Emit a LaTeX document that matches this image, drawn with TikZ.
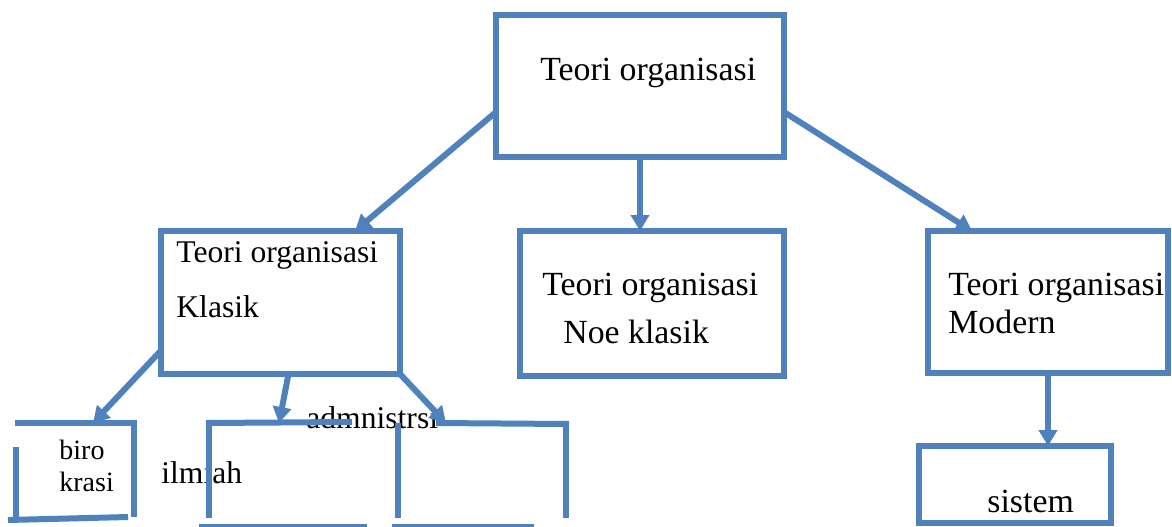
\documentclass[tikz,border=0pt]{standalone}
\usepackage{fontspec}
\setmainfont{Liberation Serif}
\usetikzlibrary{arrows.meta,calc}
\definecolor{ofblue}{HTML}{4F81BD}
\begin{document}
\begin{tikzpicture}[x=0.5pt,y=-0.5pt,
  box/.style={draw=ofblue,line width=3pt,inner sep=0pt,outer sep=0pt},
  edge/.style={draw=ofblue,line width=3pt},
  arr/.style={edge,-{Triangle[length=8pt,width=9pt]}},
  txt/.style={font=\fontsize{15.8}{19}\selectfont,inner sep=0pt,anchor=base west},
  ctxt/.style={font=\fontsize{16.9}{20}\selectfont,inner sep=0pt,anchor=base west},
  stxt/.style={font=\fontsize{14}{17}\selectfont,inner sep=0pt,anchor=base west}]
\useasboundingbox (0,0) rectangle (1172,526);
\clip (0,0) rectangle (1172,526);
% main boxes
\node[box,minimum width=144pt,minimum height=71pt] (top) at (640,86) {};
\node[box,minimum width=119.5pt,minimum height=71.5pt] (klasik) at (280.5,302.5) {};
\node[box,minimum width=132pt,minimum height=72.5pt] (neo) at (652,303.5) {};
\node[box,minimum width=120pt,minimum height=71pt] (modern) at (1048,302) {};
\node[box,minimum width=96pt,minimum height=38.5pt] (sistem) at (1015,484.5) {};
% texts
\node[ctxt] (t0) at (540,80) {Teori organisasi};
\node[txt] (t1a) at (176,262) {Teori organisasi};
\node[txt] (t1b) at (176,317) {Klasik};
\node[ctxt] (t2a) at (542,295) {Teori organisasi};
\node[ctxt] (t2b) at (563,343) {Noe klasik};
\node[ctxt] (t3a) at (948,295) {Teori organisasi};
\node[ctxt] (t3b) at (948,333) {Modern};
\node[ctxt] (t4) at (987,512) {sistem};
\node[stxt] (t5a) at (59,459) {biro};
\node[stxt] (t5b) at (59,491) {krasi};
\node[txt] (t6) at (161,483) {ilmiah};
\node[txt] (t7) at (306,428) {admnistrsi};
% partial boxes
\coordinate (biroTop) at (93,423);
\coordinate (ilmTop) at (279,423);
\coordinate (admTop) at (446,423);
\draw[edge] (15,423) -- (137,423);
\draw[edge] (134,421) -- (134,517);
\draw[edge] (16,447) -- (16,517);
\draw[edge] (8,520) -- (128,517);
\draw[edge] (209,420) -- (209,518);
\draw[edge] (206,423) -- (352,422);
\draw[edge] (199,527) -- (367,527);
\draw[edge] (398,423) -- (398,518);
\draw[edge] (436,423) -- (569,424);
\draw[edge] (566,421) -- (566,518);
\draw[edge] (392,527) -- (534,527);
% connectors
\draw[arr] ([yshift=-13pt]top.west) -- ([xshift=-22.5pt]klasik.north east);
\draw[arr] (top.south) -- (top.south |- neo.north);
\draw[arr] ([yshift=-13pt]top.east) -- ([xshift=22pt]modern.north west);
\draw[arr] (modern.south) -- (modern.south |- sistem.north);
\draw[arr] ([yshift=-24pt]klasik.west) -- (biroTop);
\draw[arr] ([xshift=4pt]klasik.south) -- (ilmTop);
\draw[arr] (klasik.south east) -- (admTop);
\end{tikzpicture}
\end{document}
